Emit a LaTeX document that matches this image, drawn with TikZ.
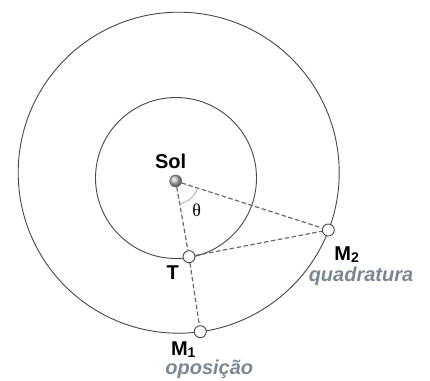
\documentclass[tikz,border=0pt]{standalone}
\usepackage{fontspec}
\setmainfont{Liberation Sans}
\newfontfamily\serifgr{Liberation Serif}
\usetikzlibrary{positioning,calc}
\definecolor{orbit}{RGB}{70,70,70}
\definecolor{dashgray}{RGB}{105,105,105}
\definecolor{notegray}{RGB}{125,135,148}
\newcommand{\lowix}[1]{{\fontsize{14}{14}\selectfont\raisebox{-1.5pt}{#1}}}

\begin{document}
\begin{tikzpicture}[
  x=1pt,y=-1pt,
  font=\fontsize{20}{22}\selectfont\bfseries,
  orb/.style={draw=orbit,line width=0.9pt},
  planet/.style={draw=orbit,circle,fill=white,inner sep=0pt,minimum size=12pt,line width=0.9pt},
  sun/.style={draw=gray!80!black,circle,shading=ball,ball color=gray!50,inner sep=0pt,minimum size=12pt,line width=0.6pt},
  sight/.style={dashgray,dashed,dash pattern=on 4.5pt off 2.5pt,line width=1.2pt},
  lab/.style={inner sep=0pt},
  note/.style={inner sep=0pt,text=notegray,font=\fontsize{20}{22}\selectfont\bfseries\itshape}
]
  \useasboundingbox (0,0) rectangle (430,380);

  % orbits
  \draw[orb] (176,178) circle (80.5);
  \draw[orb] (178.7,172.7) circle (160.5);

  % bodies
  \node[sun] (sol) at (175.7,181) {};
  \node[planet] (T) at (189,256.7) {};
  \node[planet] (M2) at (328.3,230) {};
  \node[planet] (M1) at (200.3,331.7) {};

  % lines of sight
  \draw[sight] (sol) -- (T);
  \draw[sight] (T) -- (M1);
  \draw[sight] (sol) -- (M2);
  \draw[sight] (T) -- (M2);
  \draw[gray!70,line width=0.7pt] (sol.center) ++(18:23) arc (18:80:23);

  % labels
  \node[lab] (lsol) at (170.7,161) {Sol};
  \node[lab,font=\fontsize{18}{20}\selectfont\serifgr] (ltheta) at (196.7,210) {θ};
  \node[lab] (lT) at (172.7,272.7) {T};
  \node[lab] (lM2) at (346.7,254.5) {M\lowix{2}};
  \node[note] (quad) at (361,276.5) {quadratura};
  \node[lab] (lM1) at (183.3,349.5) {M\lowix{1}};
  \node[note] (opos) at (209.3,369.5) {oposição};
\end{tikzpicture}
\end{document}
